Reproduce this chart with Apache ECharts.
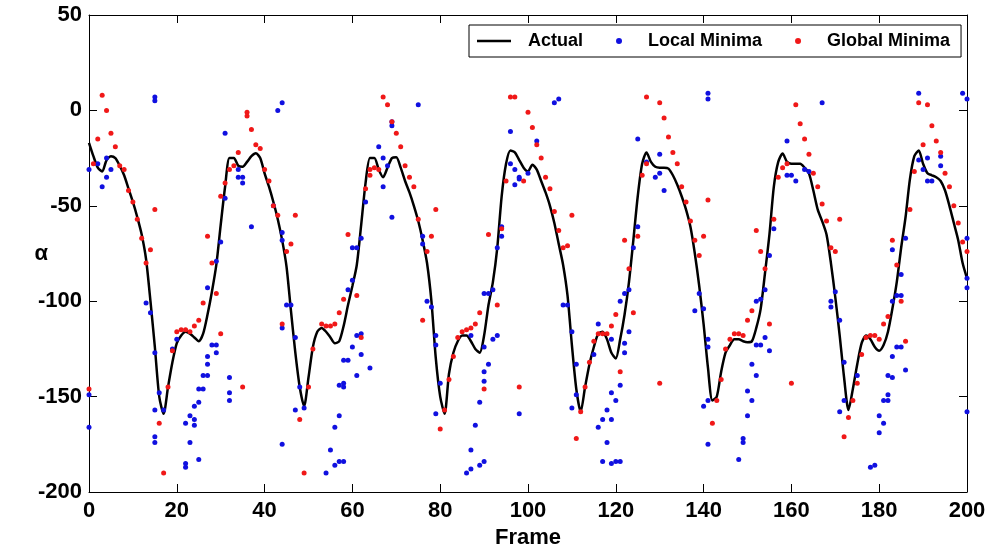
<!DOCTYPE html>
<html>
<head>
<meta charset="utf-8">
<script src="https://cdn.jsdelivr.net/npm/echarts@6/dist/echarts.min.js"></script>
<style>
html,body{margin:0;padding:0;background:#fff;}
#chart{width:992px;height:554px;}
</style>
</head>
<body>
<div id="chart"></div>
<script>
// ---- data ----
const xTicks = [0, 20, 40, 60, 80, 100, 120, 140, 160, 180, 200];
const yTicks = [-200, -150, -100, -50, 0, 50];

const actualValues = [
-17,-24,-30,-32,-26,-24,-25,-29,-34,-41,-48,-56,-65,-78,-100,-124,-150,-159,-145,-132,-122,
-118,-116,-117,-119,-121,-117,-107,-95,-81,-60,-40,-25,-25,-29,-29.5,-27,-24,-22.5,-25,-33,
-40,-48,-57,-68,-82,-105,-127,-145,-155,-140,-124,-116,-114,-116,-119,-122,-121,-113,-102,-92,
-81,-60,-38,-25,-25,-31,-35,-30,-25,-24.5,-30,-37,-43,-50,-58,-68,-80,-100,-130,-150,
-159,-138,-127,-121,-118,-118,-121,-125,-127,-118,-102,-90,-72,-45,-28,-21,-22,-26,-30,-32,
-28.5,-31,-37,-43,-50,-59,-70,-81,-97,-123,-146,-158,-145,-133,-124,-117,-116,-120,-127,-130,
-120,-107,-90,-68,-45,-28,-22,-27,-29.5,-30,-30,-30.5,-34,-39,-45,-52,-61,-75,-92,-112,
-135,-152,-150,-137,-127,-123,-120,-120,-121,-121.5,-121,-114,-104,-85,-65,-40,-27,-22.6,-27,-28,
-28,-28,-30,-33,-42,-52,-58,-65,-80,-98,-118,-140,-157,-146,-133,-122,-118,-120,-124,-126,
-123,-116,-104,-90,-72,-56,-36,-24,-21,-28,-33,-34,-35,-37,-42,-50,-59,-68,-80,-88
];
const actualFrames = actualValues.map((v, i) => i);

const localFrames = [
0,2,3,4,4,5,15,15,
0,0,13,14,15,16,15,15,15,17,19,20,
22,22,22,23,23,24,24,24,25,25,25,26,26,27,27,27,28,29,29,27,
29,30,31,31,32,32,32,
43,44,34,34,35,35,37,42,44,44,60,61,62,63,
44,45,46,47,48,47,49,44,54,55,56,57,58,56,57,57,58,58,58,59,60,61,62,61,62,59,60,64,
75,69,69,66,67,68,67,69,76,76,96,96,97,98,97,94,94,93,
77,78,79,79,80,79,87,90,90,90,91,92,93,90,91,92,89,88,87,86,87,89,90,98,
106,107,102,98,100,125,130,129,130,131,125,124,127,
108,109,110,111,111,110,115,116,119,119,120,118,117,119,116,118,117,119,120,121,121,121,122,123,122,122,123,
141,141,159,159,160,161,163,156,155,
139,138,140,141,141,140,141,141,148,149,149,150,150,151,151,152,152,153,154,155,152,153,154,
167,164,189,199,200,189,190,191,191,192,194,194,200,183,186,
169,169,170,171,172,172,171,175,178,179,180,180,181,181,182,182,182,183,183,184,185,186,183,184,185,185,200,200,200
];
const localValues = [
-31,-28,-40,-35,-25,-31,7,5,
-149,-166,-101,-106,-127,-148,-157,-171,-174,-157,-125,-120,
-164,-185,-187,-160,-174,-162,-165,-155,-153,-183,-146,-146,-139,-139,-133,-129,-123,-123,-127,-93,
-79,-69,-46,-12,-140,-148,-152,
0,4,-31,-35,-35,-38,-61,-50,-64,-68,-72,-72,-67,-48,
-114,-102,-102,-119,-145,-157,-156,-175,-190,-178,-186,-184,-184,-166,-160,-144,-143,-145,-131,-131,-124,-139,-128,-118,-117,-94,-89,-135,
3,-6,-8,-19,-25,-29,-40,-56,-66,-70,-11,-28,-31,-35,-39,-61,-66,-72,
-100,-103,-118,-123,-143,-159,-118,-124,-137,-142,-133,-120,-118,-96,-96,-94,-153,-165,-178,-190,-188,-186,-184,-159,
4,6,-16,-36,-33,-15,-23,-35,-33,-42,-61,-72,-27,
-102,-102,-116,-133,-149,-156,-128,-112,-120,-148,-152,-157,-162,-162,-166,-174,-184,-185,-184,-184,-144,-100,-96,-94,-122,-127,-116,
9,6,-16,-34,-34,-37,-31,-62,-76,
-96,-105,-104,-120,-124,-155,-152,-175,-183,-172,-174,-160,-147,-152,-133,-139,-123,-123,-119,-126,-100,-99,-94,
4,-32,9,9,6,-26,-31,-25,-37,-37,-24,-29,-67,-73,-67,
-100,-103,-95,-110,-132,-152,-158,-139,-187,-186,-169,-160,-164,-152,-149,-152,-139,-140,-129,-124,-124,-136,-100,-97,-97,-86,-88,-93,-158
];

const globalFrames = [
3,4,2,5,6,1,7,8,9,10,11,12,14,13,15,27,28,31,30,
0,16,17,18,19,20,21,22,23,24,25,26,29,30,35,
36,36,37,38,39,34,33,32,40,41,42,43,47,46,45,59,64,63,
44,48,49,50,51,53,54,55,56,57,58,61,62,
67,68,69,70,71,65,64,66,72,73,74,75,79,78,77,96,97,91,94,95,
76,80,81,82,83,84,85,86,87,88,89,90,93,98,
100,101,102,103,104,105,99,106,107,108,109,110,127,130,131,126,125,122,127,
111,112,113,114,115,116,117,118,119,120,124,121,130,123,
132,133,134,135,136,137,138,140,139,141,161,162,163,164,158,159,157,152,153,156,
142,143,144,145,146,147,148,149,150,151,155,154,160,
165,166,167,168,171,169,170,189,191,192,193,194,195,196,197,198,199,200,190,188,187,183,184,
172,173,174,175,176,177,178,179,180,181,182,185,186
];
const globalValues = [
8,0,-15,-12,-19,-28,-29,-31,-42,-48,-57,-67,-73,-80,-52,-66,-80,-38,-45,
-146,-164,-190,-145,-126,-116,-115,-115,-116,-113,-110,-101,-96,-117,-145,
-1,-3,-10,-18,-20,-22,-29,-31,-31,-37,-50,-55,-55,-70,-74,-65,-31,-41,
-112,-162,-190,-145,-125,-112,-113,-113,-112,-106,-99,-97,-119,
7,3,-6,-12,-19,-30,-34,-31,-29,-35,-40,-57,-52,-66,-74,7,7,-65,-62,-37,
-110,-167,-157,-141,-129,-119,-116,-115,-114,-112,-106,-146,-102,-145,
-1,-9,-18,-25,-35,-41,-37,-53,-63,-72,-71,-55,7,4,-4,-34,-66,-68,-28,
-172,-158,-145,-132,-121,-117,-117,-117,-113,-107,-106,-137,-143,-83,
-14,-22,-28,-40,-48,-58,-68,-66,-76,-47,3,-7,-15,-23,-30,-28,-35,-63,-74,-57,
-164,-152,-141,-125,-120,-117,-117,-118,-110,-105,-112,-83,-143,
-33,-40,-49,-58,-57,-72,-74,4,3,-8,-16,-22,-33,-40,-50,-59,-69,-74,-18,-32,-52,-68,-81,
-171,-161,-152,-143,-128,-119,-118,-118,-120,-112,-108,-100,-121
];

const seriesNames = ['Actual', 'Local Minima', 'Global Minima'];

// ---- build ----
const FONT = '"Liberation Sans", Arial, Helvetica, sans-serif';
const zip = (xs, ys) => xs.map((x, i) => [x, ys[i]]);

const axisCommon = {
  type: 'value',
  axisLine: { show: true, onZero: false, lineStyle: { color: '#000', width: 1 } },
  axisTick: { show: true, inside: true, length: 8, lineStyle: { color: '#000', width: 1 } },
  splitLine: { show: false }
};
const labelStyle = { fontSize: 22, fontWeight: 'bold', color: '#000', fontFamily: FONT };
const legendText = { fontSize: 18, fontWeight: 'bold', color: '#000', fontFamily: FONT };

const chart = echarts.init(document.getElementById('chart'), null, { renderer: 'canvas' });
chart.setOption({
  animation: false,
  backgroundColor: '#fff',
  grid: { left: 89, right: 25, top: 15, bottom: 60, containLabel: false },
  xAxis: [
    Object.assign({}, axisCommon, {
      position: 'bottom', min: xTicks[0], max: xTicks[xTicks.length - 1], interval: xTicks[1] - xTicks[0],
      axisLabel: Object.assign({ margin: 8 }, labelStyle),
      name: 'Frame', nameLocation: 'middle', nameGap: 35,
      nameTextStyle: { fontSize: 22, fontWeight: 'bold', color: '#000', fontFamily: FONT }
    }),
    Object.assign({}, axisCommon, {
      position: 'top', min: xTicks[0], max: xTicks[xTicks.length - 1], interval: xTicks[1] - xTicks[0],
      axisLabel: { show: false }
    })
  ],
  yAxis: [
    Object.assign({}, axisCommon, {
      position: 'left', min: yTicks[0], max: yTicks[yTicks.length - 1], interval: yTicks[1] - yTicks[0],
      axisLabel: Object.assign({ margin: 7 }, labelStyle),
      name: 'α', nameLocation: 'middle', nameGap: 41, nameRotate: 0, nameMoveOverlap: false,
      nameTextStyle: { fontSize: 22, fontWeight: 'bold', color: '#000', fontFamily: FONT }
    }),
    Object.assign({}, axisCommon, {
      position: 'right', min: yTicks[0], max: yTicks[yTicks.length - 1], interval: yTicks[1] - yTicks[0],
      axisLabel: { show: false }
    })
  ],
  legend: {
    left: 469, top: 25,
    orient: 'horizontal',
    backgroundColor: '#fff', borderColor: '#000', borderWidth: 1,
    padding: [7, 11, 7, 8],
    itemWidth: 34, itemHeight: 6, itemGap: 33,
    textStyle: legendText,
    data: [
      { name: seriesNames[0], icon: 'path://M0,0h34v2.5h-34z',
        textStyle: Object.assign({ padding: [0, 0, 0, 12] }, legendText) },
      { name: seriesNames[1], icon: 'circle',
        textStyle: Object.assign({ padding: [0, 0, 0, 7] }, legendText) },
      { name: seriesNames[2], icon: 'circle',
        textStyle: Object.assign({ padding: [0, 0, 0, 7] }, legendText) }
    ]
  },
  series: [
    {
      name: seriesNames[0], type: 'line', xAxisIndex: 0, yAxisIndex: 0,
      data: zip(actualFrames, actualValues),
      symbol: 'none', smooth: 0.25,
      lineStyle: { color: '#000', width: 2.5 }, itemStyle: { color: '#000' }, z: 2
    },
    {
      name: seriesNames[1], type: 'scatter', xAxisIndex: 0, yAxisIndex: 0,
      data: zip(localFrames, localValues),
      symbol: 'circle', symbolSize: 5,
      itemStyle: { color: '#1010e0', opacity: 1 }, z: 3
    },
    {
      name: seriesNames[2], type: 'scatter', xAxisIndex: 0, yAxisIndex: 0,
      data: zip(globalFrames, globalValues),
      symbol: 'circle', symbolSize: 5,
      itemStyle: { color: '#f01818', opacity: 1 }, z: 4
    }
  ]
});
</script>
</body>
</html>
